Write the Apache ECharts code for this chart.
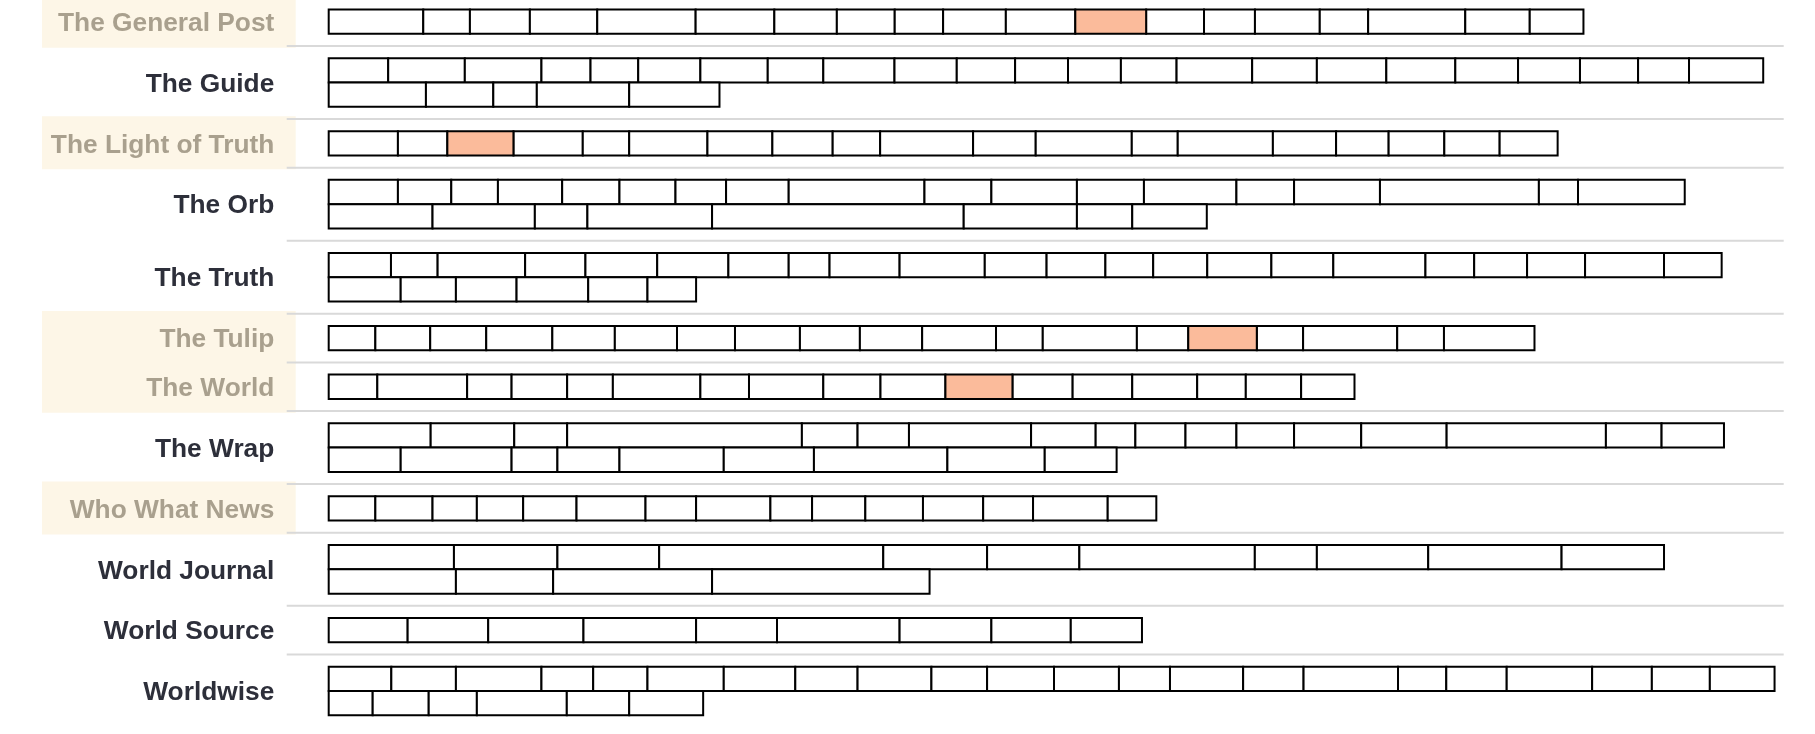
<!DOCTYPE html>
<html><head><meta charset="utf-8">
<script src="https://cdn.jsdelivr.net/npm/echarts@6/dist/echarts.min.js"></script>
<style>html,body{margin:0;padding:0;background:#fff}#chart{width:1815px;height:734px}</style>
</head><body><div id="chart"></div>
<script>
// ---- data ----
const publications = ['The General Post','The Guide','The Light of Truth','The Orb','The Truth','The Tulip','The World','The Wrap','Who What News','World Journal','World Source','Worldwise'];
const highlightedLabel = [true,false,true,false,false,true,true,false,true,false,false,false];
const highlightedSegment = [11,-1,2,-1,-1,14,10,-1,-1,-1,-1,-1];
const theGeneralPost = [81.7,40.3,51.8,58.2,85,68,54,50,41.8,54.2,60,61.2,50,44,56,41.8,83.9,55.7,46.4];
const theGuide = [51.4,66.2,66.2,42.4,41.2,53.7,58.2,48,61.5,53.8,50.4,45.7,45.7,48.1,65.3,55.9,60,59.6,54.2,53.5,50.2,44,64.1,84,58.2,37.6,79.8,78];
const theLightOfTruth = [59.8,42.7,57.1,59.9,40.1,67.6,56.1,52.1,41,80.3,54.1,83,39.7,82.2,54.6,45.4,48.1,47.8,50.1];
const theOrb = [59.8,46.1,40.3,55.5,49.5,48.4,43.7,54.1,117.3,57.8,73.9,57.9,79.9,49.8,74.2,137.3,33.8,92.2,89.7,88.4,45.4,107.7,217.4,97.8,47.8,64.4];
const theTruth = [53.8,40.3,75.6,52.1,62,61.5,52.1,35.3,60.5,73.6,53.4,50.8,41.3,46.7,55.4,53.5,79.6,42.1,45.7,50.1,68.2,49.8,62.2,47.7,52.4,61.9,51.2,42];
const theTulip = [40.3,47.4,48.4,57.1,54,53.7,50.1,56.1,51.8,53.8,63.8,40.4,81.3,44.4,59.2,40,81.3,40.4,78.2];
const theWorld = [42,77.6,38.4,48,39.5,75.6,42,64.2,49.4,56.1,57.9,52,51.5,56.1,42,47.8,46.1];
const theWrap = [88.1,72.2,45.7,202.8,48.1,44.4,105.5,55.8,34.3,43.3,44,49.8,58,73.8,137.6,48.1,53.9,62.2,95.8,39.6,53.6,90.1,77.9,115.3,84.1,62.1];
const whoWhatNews = [40.3,49.4,38.3,40,46.1,59.6,43.7,64.2,36,46,49.8,52,43.1,64.5,42];
const worldJournal = [108.2,89.4,87.9,193.6,89.7,79.7,151.6,53.6,96.2,115.2,88.5,109.9,84,137.3,187.9];
const worldSource = [68.2,69.6,82.3,97.3,69.9,105.9,79.3,68.6,61.5];
const worldwise = [54.1,55.8,73.9,44.7,46.9,65.9,61.8,53.8,63.8,48.1,57.8,56.1,44.1,63.2,52.2,81.6,41.7,52.2,73.8,51.6,50.1,55.9,38,48.4,41.6,77.7,53.9,63.9];
const rows = [theGeneralPost,theGuide,theLightOfTruth,theOrb,theTruth,theTulip,theWorld,theWrap,whoWhatNews,worldJournal,worldSource,worldwise];
const lineLimit = 1257;

// ---- layout (wrapping) ----
const cells = [], labels = [], seps = [];
let yCursor = 0;
rows.forEach((segs, r) => {
  let x = 0, line = 0;
  const placed = [];
  segs.forEach((w, i) => {
    if (x + w > lineLimit && x > 0) { line++; x = 0; }
    placed.push([x, x + w, line, i === highlightedSegment[r] ? 1 : 0]);
    x += w;
  });
  const nLines = line + 1;
  const top = yCursor + 0.5;
  placed.forEach(p => cells.push([p[0], p[1], top + p[2], p[3]]));
  labels.push([yCursor + (nLines + 1) / 2, r]);
  yCursor += nLines + 1;
  if (r < rows.length - 1) seps.push([yCursor]);
});
const yTotal = yCursor;

const chart = echarts.init(document.getElementById('chart'), null, {renderer: 'canvas'});
const FONT = 'bold 26.3px "Liberation Sans", Arial, sans-serif';
chart.setOption({
  animation: false,
  grid: {left: 328.7, right: 31.3, top: 0, bottom: 6.5},
  xAxis: {type: 'value', min: 0, max: lineLimit, show: false},
  yAxis: {type: 'value', min: 0.11, max: yTotal, inverse: true, show: false},
  series: [
    {
      type: 'custom', clip: false, z: 1,
      data: labels,
      renderItem: (params, api) => {
        const r = api.value(1);
        const c = api.coord([0, api.value(0)]);
        const children = [];
        if (highlightedLabel[r]) {
          children.push({type: 'rect', shape: {x: c[0] - 286.7, y: c[1] - 27, width: 253.7, height: 53},
            style: {fill: '#fdf6e7'}});
        }
        children.push({type: 'text', style: {text: publications[r], x: c[0] - 54.4, y: c[1] + 2,
          align: 'right', verticalAlign: 'middle', font: FONT,
          fill: highlightedLabel[r] ? '#a9a08e' : '#2d2f3a'}});
        return {type: 'group', children};
      }
    },
    {
      type: 'custom', clip: false, z: 2,
      data: seps,
      renderItem: (params, api) => {
        const a = api.coord([0, api.value(0)]);
        const b = api.coord([lineLimit, api.value(0)]);
        return {type: 'line', shape: {x1: a[0] - 42, y1: a[1], x2: b[0], y2: b[1]},
          style: {stroke: '#d9d9d9', lineWidth: 2}};
      }
    },
    {
      type: 'custom', clip: false, z: 3,
      data: cells,
      renderItem: (params, api) => {
        const p0 = api.coord([api.value(0), api.value(2)]);
        const p1 = api.coord([api.value(1), api.value(2) + 1]);
        const hl = api.value(3) === 1;
        return {type: 'rect', z2: hl ? 5 : 1,
          shape: {x: p0[0], y: p0[1], width: p1[0] - p0[0], height: p1[1] - p0[1]},
          style: {fill: hl ? '#fbbb9b' : '#ffffff', stroke: '#000000', lineWidth: 2}};
      }
    }
  ]
});
</script></body></html>
